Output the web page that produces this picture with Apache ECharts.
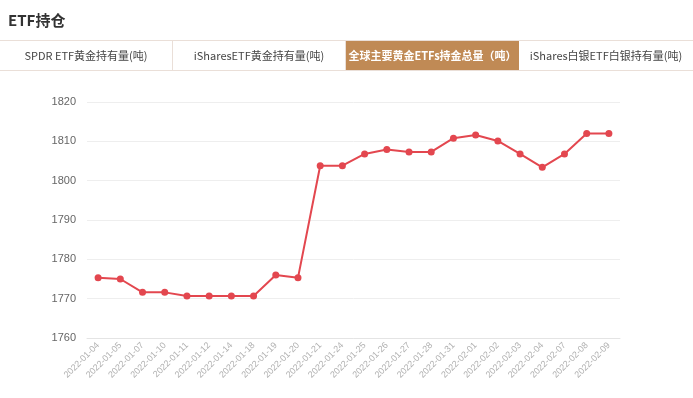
<!DOCTYPE html>
<html>
<head>
<meta charset="utf-8">
<script src="https://cdn.jsdelivr.net/npm/echarts@6/dist/echarts.min.js"></script>
<style>
  html, body { margin: 0; padding: 0; background: #fff; }
  body { width: 693px; height: 398px; position: relative; overflow: hidden;
         font-family: "Noto Sans CJK SC", "Noto Sans", sans-serif; }
  #chart { position: absolute; left: 0; top: 0; width: 693px; height: 398px; }
  .title { position: absolute; left: 8px; top: 9px; font-size: 15px; font-weight: bold; color: #333; }
  .tabs { position: absolute; left: 0; top: 40px; width: 693px; height: 29px;
          border-top: 1px solid #eadfd8; border-bottom: 1px solid #eadfd8; display: flex; }
  .tab { width: 173px; height: 29px; line-height: 29px; text-align: center; font-size: 11px;
         color: #444; border-right: 1px solid #eadfd8; box-sizing: border-box; white-space: nowrap; }
  .tab.on { background: #c08a55; color: #fff; font-weight: bold; border-right: none; }
  .tab:last-child { border-right: none; flex: 1; }
</style>
</head>
<body>
<div id="chart"></div>
<div class="title">ETF持仓</div>
<div class="tabs">
  <div class="tab">SPDR ETF黄金持有量(吨)</div>
  <div class="tab">iSharesETF黄金持有量(吨)</div>
  <div class="tab on">全球主要黄金ETFs持金总量（吨）</div>
  <div class="tab">iShares白银ETF白银持有量(吨)</div>
</div>
<script>
// dates on the x axis
var dates = ['2022-01-04', '2022-01-05', '2022-01-07', '2022-01-10', '2022-01-11', '2022-01-12',
  '2022-01-14', '2022-01-18', '2022-01-19', '2022-01-20', '2022-01-21', '2022-01-24',
  '2022-01-25', '2022-01-26', '2022-01-27', '2022-01-28', '2022-01-31', '2022-02-01',
  '2022-02-02', '2022-02-03', '2022-02-04', '2022-02-07', '2022-02-08', '2022-02-09'];

// total holdings (tonnes)
var holdings = [1775.3, 1775.0, 1771.6, 1771.6, 1770.7, 1770.7, 1770.7, 1770.7, 1776.0, 1775.3,
  1803.8, 1803.8, 1806.8, 1807.9, 1807.3, 1807.3, 1810.8, 1811.6, 1810.1, 1806.8,
  1803.4, 1806.8, 1812.0, 1812.0];

var yTicks = [1760, 1820, 10]; // min, max, step

var myChart = echarts.init(document.getElementById('chart'));
myChart.setOption({
  animation: false,
  grid: { left: 87, right: 73, top: 102, bottom: 60 },
  xAxis: {
    type: 'category',
    data: dates,
    boundaryGap: true,
    axisLine: { lineStyle: { color: '#e4e4e4' } },
    axisTick: { show: false },
    axisLabel: { rotate: 45, interval: 0, fontSize: 9, color: '#b0b0b0', margin: 6 }
  },
  yAxis: {
    type: 'value',
    min: yTicks[0],
    max: yTicks[1],
    interval: yTicks[2],
    axisLine: { show: false },
    axisTick: { show: false },
    axisLabel: { fontSize: 11, color: '#666', margin: 11, formatter: function (v) { return String(v); } },
    splitLine: { lineStyle: { color: '#eee' } }
  },
  series: [{
    type: 'line',
    data: holdings,
    symbol: 'circle',
    symbolSize: 7,
    itemStyle: { color: '#e3474f' },
    lineStyle: { color: '#e3474f', width: 2 }
  }]
});
</script>
</body>
</html>
